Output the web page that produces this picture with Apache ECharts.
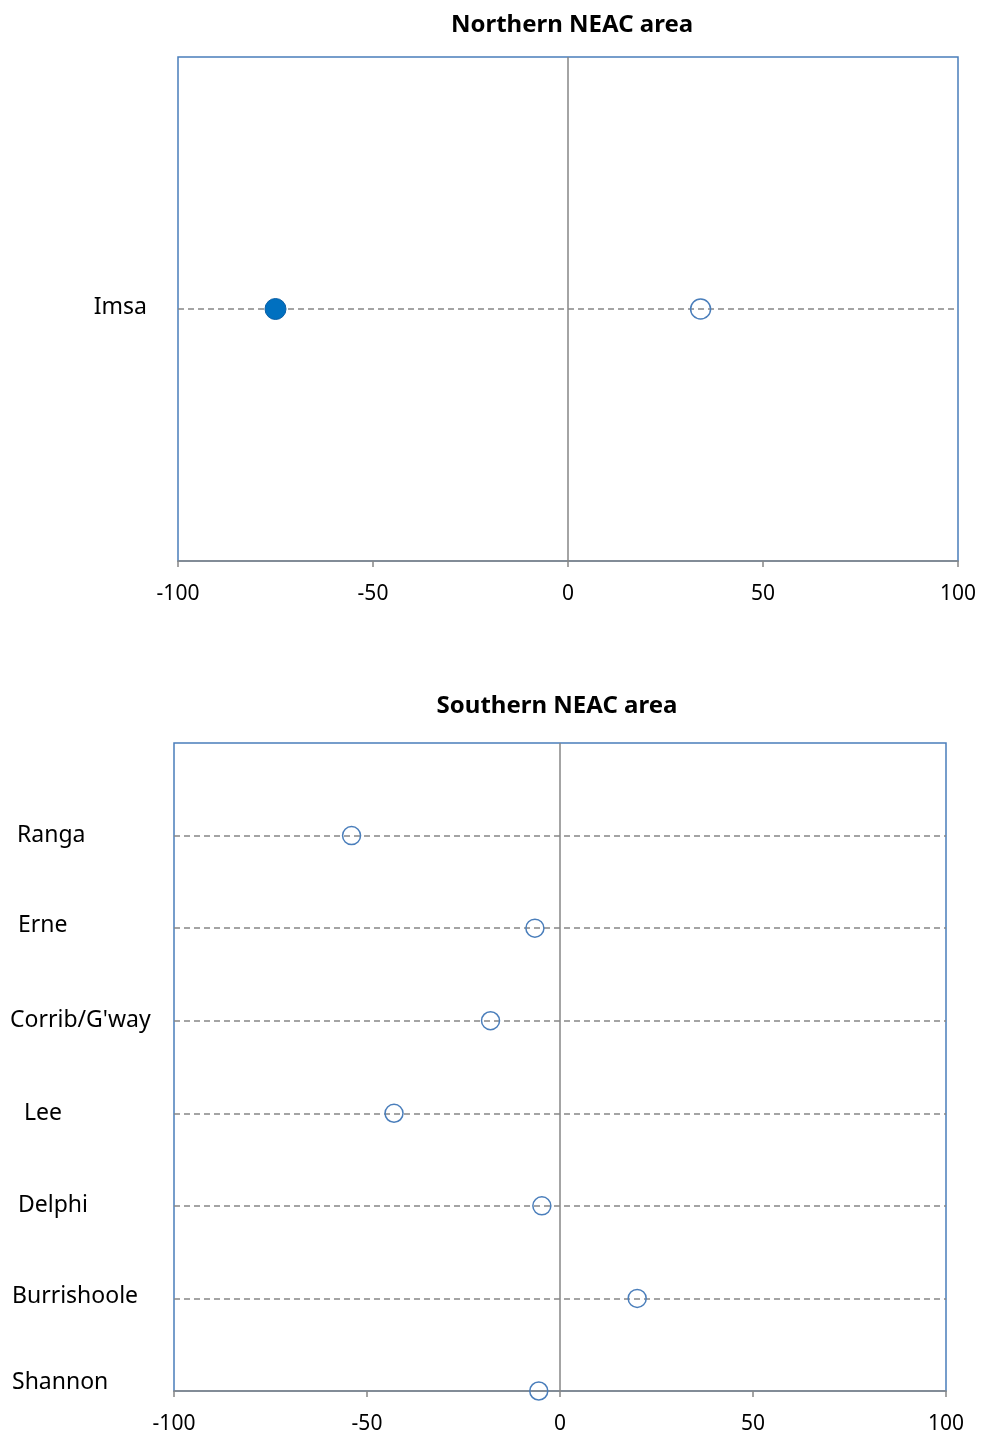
<!DOCTYPE html>
<html><head><meta charset="utf-8">
<script src="https://cdn.jsdelivr.net/npm/echarts@6/dist/echarts.min.js"></script>
<style>html,body{margin:0;padding:0;background:#fff}#c{width:981px;height:1437px}</style>
</head><body><div id="c"></div>
<script>
// ---- data ----
const northTitle = 'Northern NEAC area';
const southTitle = 'Southern NEAC area';
const northCats = ['Imsa'];
const northFilled = [-75];
const northOpen = [34];
// bottom-to-top order
const southCats = ['Shannon', 'Burrishoole', 'Delphi', 'Lee', "Corrib/G'way", 'Erne', 'Ranga'];
const southOpen = [-5.5, 20, -4.7, -43, -18, -6.5, -54];
const xTicks = [-100, -50, 0, 50, 100];

// ---- label layout (style only): [left padding px, lift padding px] per south label ----
const southLabelLayout = [[2, 18], [2, 4], [8, 0], [14, 0], [0, 0], [8, 6], [7, 0]];

const FONT = 'Noto Sans';
const BLUE = '#4a7ebb';
const GRAY = '#868686';

function pts(vals) { return vals.map((v, i) => [v, i + 1]); }
function ptsS(vals) { return vals.map((v, i) => [v, i]); }

const xAxisBase = (gi) => ({
  type: 'value', gridIndex: gi, min: xTicks[0], max: xTicks[xTicks.length - 1], interval: 50,
  axisLine: { show: true, lineStyle: { color: GRAY, width: 1.5 } },
  axisTick: { show: true, length: 6, lineStyle: { color: GRAY, width: 1.5 } },
  axisLabel: { color: '#000', fontFamily: FONT, fontSize: 21, margin: 23 },
  splitLine: { show: false }
});
const zeroLine = {
  silent: true, symbol: 'none', label: { show: false },
  lineStyle: { color: GRAY, type: 'solid', width: 1.5 },
  data: [{ xAxis: 0 }]
};
const openStyle = { color: 'rgba(0,0,0,0)', borderColor: BLUE, borderWidth: 1.5, opacity: 1 };

const rich = {};
southLabelLayout.forEach((l, i) => {
  rich['r' + i] = { fontFamily: FONT, fontSize: 23, color: '#000', padding: [0, 0, l[1], l[0]] };
});

const option = {
  animation: false,
  backgroundColor: '#fff',
  title: [
    { text: northTitle, left: 567, top: 8, textAlign: 'center',
      textStyle: { fontFamily: FONT, fontWeight: 'bold', fontSize: 24, color: '#000' } },
    { text: southTitle, left: 552, top: 689, textAlign: 'center',
      textStyle: { fontFamily: FONT, fontWeight: 'bold', fontSize: 24, color: '#000' } }
  ],
  grid: [
    { left: 178, right: 23, top: 57, height: 504, show: true, borderColor: BLUE, borderWidth: 1.5 },
    { left: 174, right: 35, top: 743, height: 648, show: true, borderColor: BLUE, borderWidth: 1.5 }
  ],
  xAxis: [xAxisBase(0), xAxisBase(1)],
  yAxis: [
    { type: 'value', gridIndex: 0, min: 0, max: northCats.length + 1, interval: 1,
      axisLine: { show: false }, axisTick: { show: false },
      axisLabel: { color: '#000', fontFamily: FONT, fontSize: 23, margin: 31, align: 'right',
        formatter: v => { const n = northCats[v - 1]; return n ? '{a|' + n + '}' : ''; },
        rich: { a: { fontFamily: FONT, fontSize: 23, color: '#000', padding: [0, 0, 4, 0] } } },
      splitLine: { show: true, showMinLine: false, showMaxLine: false, lineStyle: { color: GRAY, type: [6, 4], width: 1.5 } }
    },
    { type: 'value', gridIndex: 1, min: 0, max: southCats.length, interval: 1,
      axisLine: { show: false }, axisTick: { show: false },
      axisLabel: { color: '#000', fontFamily: FONT, fontSize: 23, margin: 164, align: 'left',
        formatter: v => { const n = southCats[v]; if (!n) return ''; return '{r' + v + '|' + n + '}'; },
        rich: rich },
      splitLine: { show: true, showMinLine: false, showMaxLine: false, lineStyle: { color: GRAY, type: [6, 4], width: 1.5 } }
    }
  ],
  series: [
    { type: 'scatter', xAxisIndex: 0, yAxisIndex: 0, data: [], markLine: zeroLine, z: 1 },
    { type: 'scatter', xAxisIndex: 1, yAxisIndex: 1, data: [], markLine: zeroLine, z: 1 },
    { type: 'scatter', xAxisIndex: 0, yAxisIndex: 0, data: pts(northFilled), symbol: 'circle', symbolSize: 21,
      itemStyle: { color: '#0070c0', borderColor: '#0a5fa6', borderWidth: 1, opacity: 1 }, z: 5 },
    { type: 'scatter', xAxisIndex: 0, yAxisIndex: 0, data: pts(northOpen), symbol: 'circle', symbolSize: 20,
      itemStyle: openStyle, z: 5 },
    { type: 'scatter', xAxisIndex: 1, yAxisIndex: 1, data: ptsS(southOpen), symbol: 'circle', symbolSize: 18,
      itemStyle: openStyle, z: 5, clip: false }
  ]
};
const chart = echarts.init(document.getElementById('c'), null, { renderer: 'canvas' });
chart.setOption(option);
</script>
</body></html>
